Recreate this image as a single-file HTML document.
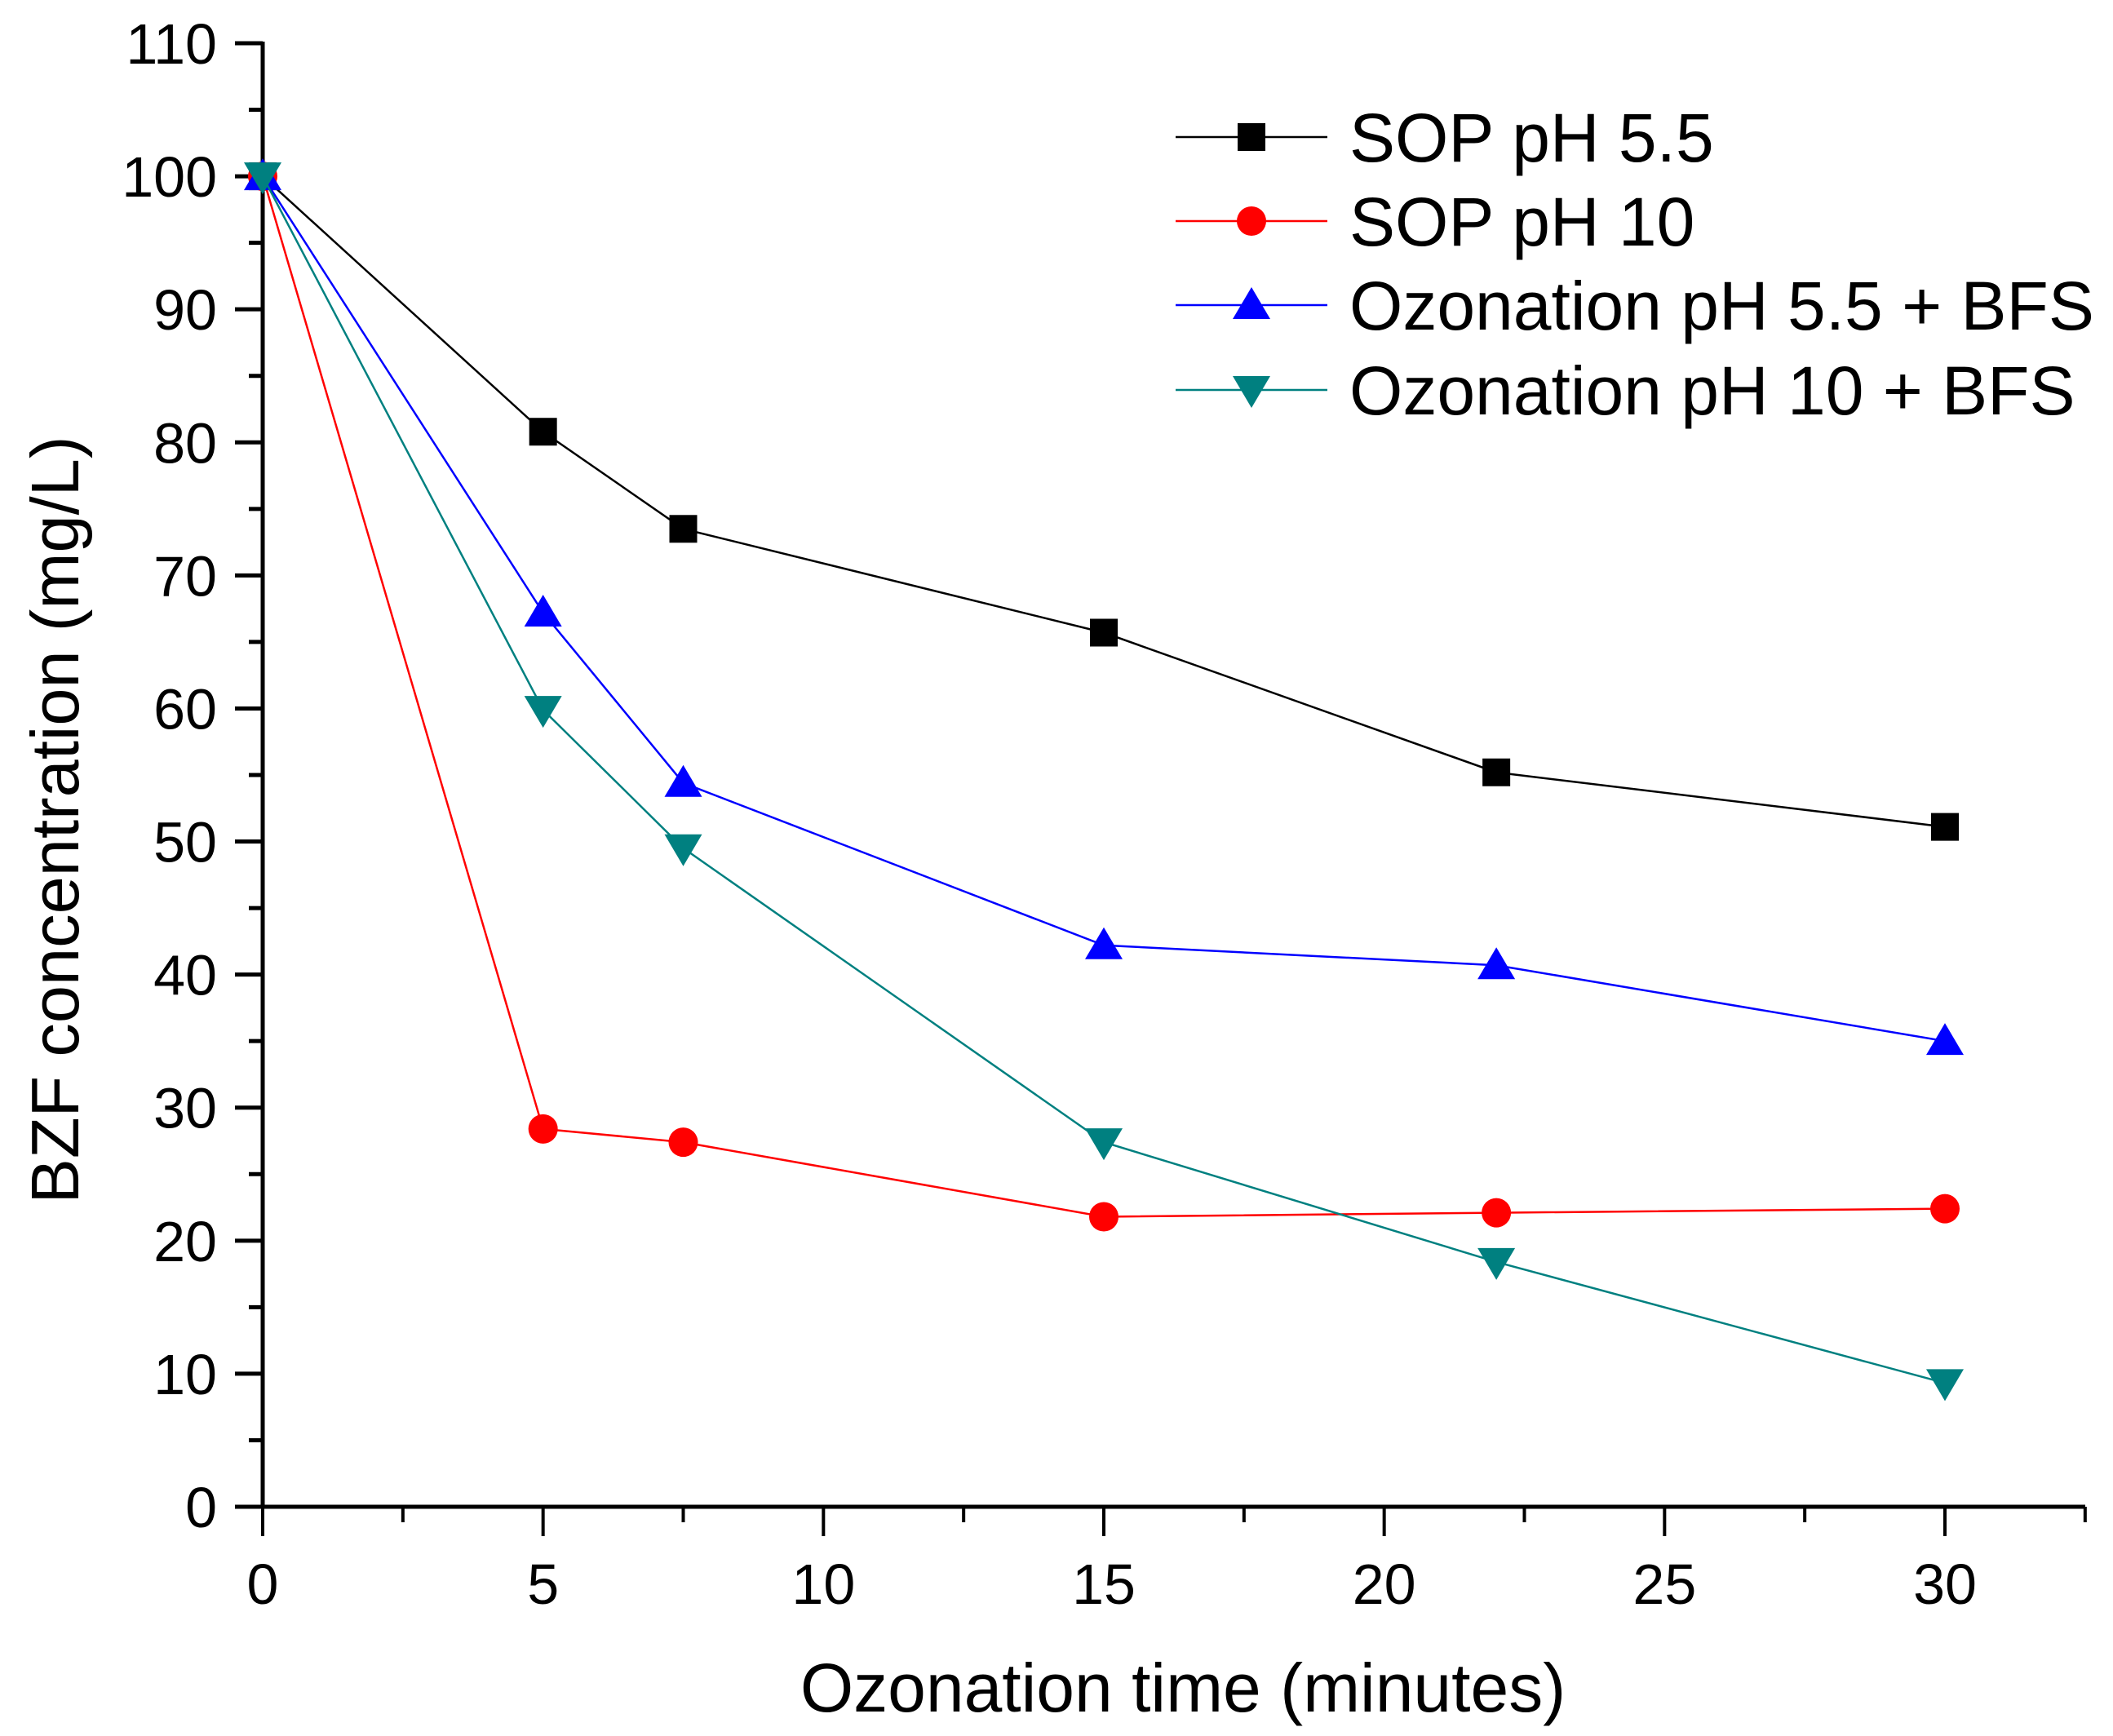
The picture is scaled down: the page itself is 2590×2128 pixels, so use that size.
<!DOCTYPE html>
<html><head><meta charset="utf-8"><style>
html,body{margin:0;padding:0;background:#fff;}
svg{display:block;font-family:"Liberation Sans",Arial,sans-serif;}
</style></head><body>
<svg id="chart" width="2590" height="2128" viewBox="0 0 2590 2128">
<g id="axes"></g>
<g id="series"></g>
<g id="legend"></g>
<text x="1450" y="2098" font-size="84" text-anchor="middle">Ozonation time (minutes)</text>
<text x="0" y="0" font-size="83" text-anchor="middle" transform="translate(96,1005) rotate(-90)">BZF concentration (mg/L)</text>
</svg>
<script>
const xValues = [0, 5, 7.5, 15, 22, 30];
const sop55 = [100, 80.8, 73.5, 65.7, 55.2, 51.1];
const sop10 = [100, 28.4, 27.4, 21.8, 22.1, 22.4];
const oz55 = [100, 67.2, 54.4, 42.2, 40.7, 35.0];
const oz10 = [100, 59.9, 49.5, 27.4, 18.4, 9.3];
const seriesNames = ["SOP pH 5.5", "SOP pH 10", "Ozonation pH 5.5 + BFS", "Ozonation pH 10 + BFS"];
const xTicks = [0, 5, 10, 15, 20, 25, 30];
const yTicks = [0, 10, 20, 30, 40, 50, 60, 70, 80, 90, 100, 110];

const NS = "http://www.w3.org/2000/svg";
const X0 = 322, X1 = 2384, Y0 = 1847, Y110 = 53;
const xs = v => X0 + (v / 30) * (X1 - X0);
const ys = v => Y0 - (v / 110) * (Y0 - Y110);
function mk(tag, attrs, parent) {
  const e = document.createElementNS(NS, tag);
  for (const k in attrs) e.setAttribute(k, attrs[k]);
  parent.appendChild(e);
  return e;
}
const axes = document.getElementById("axes");
let yl = mk("line", {x1: X0, y1: Y110 - 2, x2: X0, y2: Y0 + 2, stroke: "#000", "stroke-width": 5}, axes);


let xl = mk("line", {x1: X0 - 2, y1: Y0, x2: 2556, y2: Y0, stroke: "#000", "stroke-width": 5}, axes);


yTicks.forEach((v, i) => {
  const y = ys(v);
  const t = mk("line", {x1: X0 - 34, y1: y, x2: X0, y2: y, stroke: "#000", "stroke-width": 5}, axes);
  
  
  if (i < yTicks.length - 1) {
    const ym = ys(v + 5);
    const m = mk("line", {x1: X0 - 17, y1: ym, x2: X0, y2: ym, stroke: "#000", "stroke-width": 5}, axes);
    
    
  }
  const lb = mk("text", {x: 266, y: y + 25, "font-size": 70, "text-anchor": "end"}, axes);
  lb.textContent = v;
  
  
});
xTicks.forEach(v => {
  const x = xs(v);
  const t = mk("line", {x1: x, y1: Y0, x2: x, y2: Y0 + 36, stroke: "#000", "stroke-width": 4}, axes);
  
  
  const xm = xs(v + 2.5);
  const m = mk("line", {x1: xm, y1: Y0, x2: xm, y2: Y0 + 19, stroke: "#000", "stroke-width": 4}, axes);
  
  
  const lb = mk("text", {x: x, y: 1966, "font-size": 70, "text-anchor": "middle"}, axes);
  lb.textContent = v;
  
  
});
function marker(type, cx, cy, color, parent) {
  let e;
  if (type === "square") e = mk("rect", {x: cx - 17, y: cy - 17, width: 34, height: 34, fill: color}, parent);
  else if (type === "circle") e = mk("circle", {cx: cx, cy: cy, r: 18, fill: color}, parent);
  else if (type === "up") e = mk("polygon", {points: `${cx},${cy-22} ${cx-23},${cy+17} ${cx+23},${cy+17}`, fill: color}, parent);
  else e = mk("polygon", {points: `${cx},${cy+22} ${cx-23},${cy-17} ${cx+23},${cy-17}`, fill: color}, parent);
  return e;
}
const seriesData = [sop55, sop10, oz55, oz10];
const colors = ["#000000", "#ff0000", "#0000ff", "#008080"];
const markers = ["square", "circle", "up", "down"];
const keys = ["sop-ph-5-5", "sop-ph-10", "ozonation-ph-5-5-bfs", "ozonation-ph-10-bfs"];
const sg = document.getElementById("series");
seriesData.forEach((data, si) => {
  const g = mk("g", {}, sg);
  
  
  const pl = mk("polyline", {points: data.map((v, i) => xs(xValues[i]) + "," + ys(v)).join(" "), fill: "none", stroke: colors[si], "stroke-width": 2.5}, g);
  
  
  data.forEach((v, i) => {
    const m = marker(markers[si], xs(xValues[i]), ys(v), colors[si], g);
    
    
  });
});
const lg = document.getElementById("legend");
const rowsY = [168, 271, 374, 478];
seriesNames.forEach((name, si) => {
  const g = mk("g", {}, lg);
  
  
  const y = rowsY[si];
  mk("line", {x1: 1441, y1: y, x2: 1627, y2: y, stroke: colors[si], "stroke-width": 2.5}, g);
  marker(markers[si], 1534, y, colors[si], g);
  const t = mk("text", {x: 1654, y: y + 30, "font-size": 84}, g);
  t.textContent = name;
  
  
});
</script>
</body></html>
